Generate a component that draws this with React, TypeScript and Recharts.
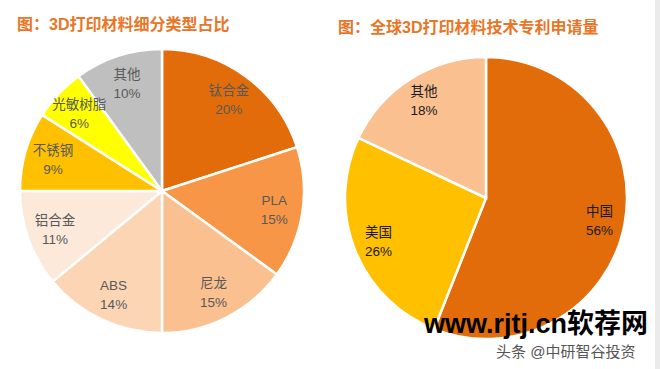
import React from "react";
import { PieChart, Pie, Cell } from "recharts";

// 左图：3D打印材料细分类型占比
const materialNames = ["钛合金", "PLA", "尼龙", "ABS", "铝合金", "不锈钢", "光敏树脂", "其他"];
const materialShares = [20, 15, 15, 14, 11, 9, 6, 10];
const materialColors = ["#E36C0A", "#F79646", "#FAC090", "#FCD5B5", "#FDE9D9", "#FFC000", "#FFFF00", "#BFBFBF"];

// 右图：全球3D打印材料技术专利申请量
const patentNames = ["中国", "美国", "其他"];
const patentShares = [56, 26, 18];
const patentColors = ["#E36C0A", "#FFC000", "#FAC090"];

const materialData = materialNames.map((name, i) => ({ name, value: materialShares[i] }));
const patentData = patentNames.map((name, i) => ({ name, value: patentShares[i] }));

const RADIAN = Math.PI / 180;
const FONT = '"Liberation Sans", "Noto Sans CJK SC", sans-serif';

const makeLabel = (color: string, ratio: number) => (props: any) => {
  const { cx, cy, midAngle, outerRadius, name, value } = props;
  const r = outerRadius * ratio;
  const x = cx + r * Math.cos(-midAngle * RADIAN);
  const y = cy + r * Math.sin(-midAngle * RADIAN);
  return (
    <text x={x} y={y} fill={color} fontSize={13.5} fontFamily={FONT} textAnchor="middle">
      <tspan x={x} dy={-4}>{name}</tspan>
      <tspan x={x} dy={19}>{`${value}%`}</tspan>
    </text>
  );
};

const titleStyle: React.CSSProperties = {
  position: "absolute",
  color: "#EA7526",
  fontSize: 16,
  fontWeight: "bold",
  fontFamily: FONT,
  whiteSpace: "nowrap",
  lineHeight: "20px",
};

const App: React.FC = () => {
  return (
    <div style={{ position: "absolute", left: 0, top: 0, width: 660, height: 369, background: "#FFFFFF", overflow: "hidden" }}>
      <div style={{ position: "absolute", left: 655, top: 0, width: 5, height: 369, background: "#EBEBEB" }} />
      <div style={{ ...titleStyle, left: 17, top: 15 }}>图：3D打印材料细分类型占比</div>
      <div style={{ ...titleStyle, left: 338, top: 18 }}>图：全球3D打印材料技术专利申请量</div>
      <div style={{ position: "absolute", left: 0, top: 0 }}>
        <PieChart width={660} height={369} margin={{ top: 0, right: 0, bottom: 0, left: 0 }}>
          <Pie
            data={materialData}
            dataKey="value"
            nameKey="name"
            cx={162}
            cy={191}
            outerRadius={142}
            startAngle={90}
            endAngle={-270}
            stroke="#FFFFFF"
            strokeWidth={2.5}
            labelLine={false}
            label={makeLabel("#595959", 0.8)}
            isAnimationActive={false}
          >
            {materialData.map((entry, index) => (
              <Cell key={`m-${index}`} fill={materialColors[index]} />
            ))}
          </Pie>
          <Pie
            data={patentData}
            dataKey="value"
            nameKey="name"
            cx={486}
            cy={198}
            outerRadius={141}
            startAngle={90}
            endAngle={-270}
            stroke="#FFFFFF"
            strokeWidth={2.5}
            labelLine={false}
            label={makeLabel("#1A1A1A", 0.82)}
            isAnimationActive={false}
          >
            {patentData.map((entry, index) => (
              <Cell key={`p-${index}`} fill={patentColors[index]} />
            ))}
          </Pie>
        </PieChart>
      </div>
      <div
        style={{
          position: "absolute",
          left: 424,
          top: 308,
          fontSize: 27,
          fontWeight: "bold",
          fontFamily: FONT,
          color: "#000000",
          whiteSpace: "nowrap",
          lineHeight: "32px",
        }}
      >
        www.rjtj.cn软荐网
      </div>
      <div
        style={{
          position: "absolute",
          left: 496,
          top: 343,
          fontSize: 15,
          fontFamily: FONT,
          color: "#555555",
          whiteSpace: "nowrap",
          lineHeight: "18px",
          textShadow: "0 0 2px #FFFFFF, 0 0 2px #FFFFFF",
        }}
      >
        头条 @中研智谷投资
      </div>
    </div>
  );
};

export default App;
